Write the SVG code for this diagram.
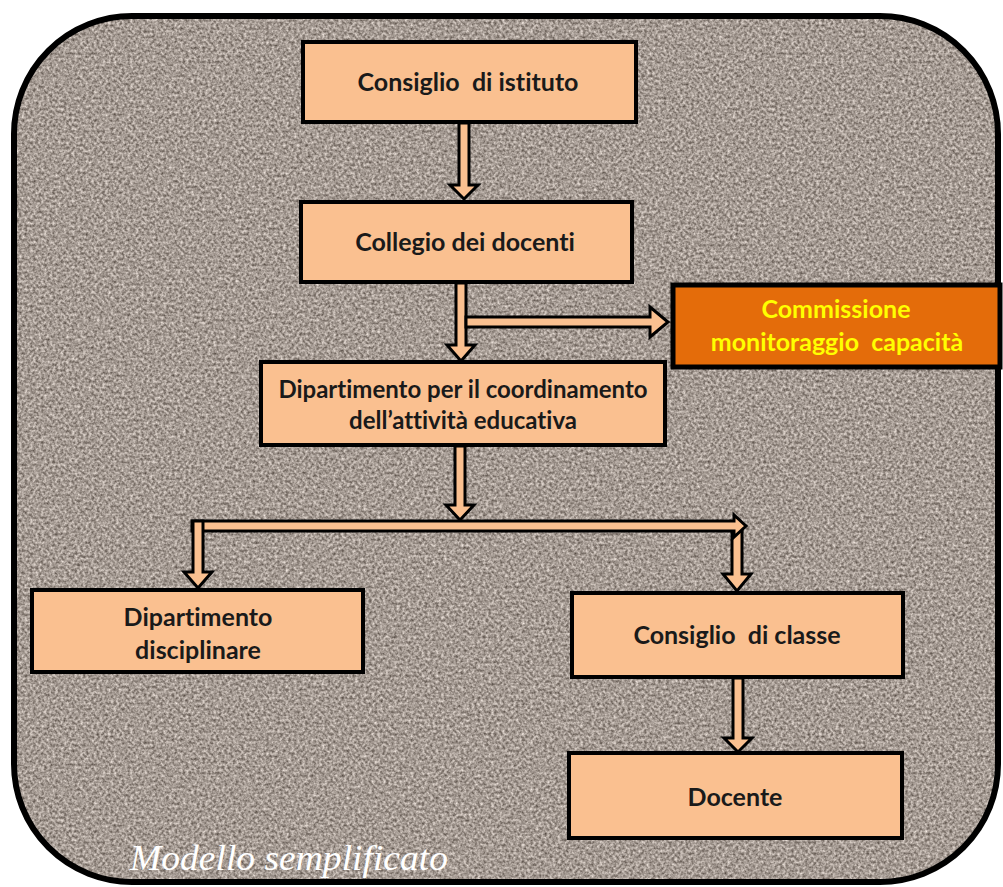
<svg xmlns="http://www.w3.org/2000/svg" width="1003" height="887" viewBox="0 0 1003 887">
<defs>
<filter id="grain" x="0" y="0" width="100%" height="100%" color-interpolation-filters="sRGB">
<feTurbulence type="fractalNoise" baseFrequency="0.36" numOctaves="2" seed="7" result="n"/>
<feColorMatrix in="n" type="matrix" values="0.75 0 0 0 0.27  0.75 0 0 0 0.23  0.75 0 0 0 0.20  0 0 0 0 1" result="c"/>
<feComposite in="c" in2="SourceAlpha" operator="in"/>
</filter>
<style>
.box{fill:#FAC090;stroke:#000;stroke-width:4}
.orange{fill:#E46C0A;stroke:#000;stroke-width:5}
.t{font-family:Lato,"Open Sans","Liberation Sans",sans-serif;font-weight:bold;font-size:25px;fill:#1a1a1a;text-anchor:middle;font-variant-ligatures:none}
.t2{font-size:24px}
.ty{font-family:Lato,"Open Sans","Liberation Sans",sans-serif;font-weight:bold;font-size:25px;fill:#FFFF00;text-anchor:middle;font-variant-ligatures:none}
.arr{fill:#FAC090;stroke:#000;stroke-width:3;stroke-linejoin:miter}
.cap{font-family:"Liberation Serif","DejaVu Serif",serif;font-style:italic;font-size:36px;fill:#fff;font-variant-ligatures:none}
</style>
</defs>
<rect width="1003" height="887" fill="#fff"/>
<g id="background">
<rect x="14" y="16" width="984" height="866" rx="118" ry="118" fill="#a0968e"/>
<rect x="14" y="16" width="984" height="866" rx="118" ry="118" fill="#a0968e" filter="url(#grain)"/>
<rect x="14" y="16" width="984" height="866" rx="118" ry="118" fill="none" stroke="#000" stroke-width="6"/>
</g>
<g id="connectors">
<polygon class="arr" points="459,123 469,123 469,185 478,185 464,199 450,185 459,185"/>
<polygon class="arr" points="456,283 466,283 466,345 475,345 461,361 447,345 456,345"/>
<polygon class="arr" points="466,317 650,317 650,307 668,322 650,337 650,327 466,327"/>
<polygon class="arr" points="455,446 465,446 465,505 474,505 460,520 446,505 455,505"/>
<polygon class="arr" points="732,531 742,531 742,574 751,574 737,591 723,574 732,574"/>
<polygon class="arr" points="192,521 734,521 734,515 746,526 734,537 734,531 202,531 192,531"/>
<polygon class="arr" points="193,521 203,521 203,572 212,572 198,588 184,572 193,572"/>
<polygon class="arr" points="733,678 743,678 743,738 752,738 738,752 724,738 733,738"/>
</g>
<g id="n1"><rect class="box" x="303" y="42" width="333" height="80"/><text class="t" x="468" y="91" xml:space="preserve">Consiglio  di istituto</text></g>
<g id="n2"><rect class="box" x="301" y="202" width="331" height="80"/><text class="t" x="465" y="251">Collegio dei docenti</text></g>
<g id="n3"><rect class="box" x="261" y="362" width="404" height="83"/><text class="t t2" x="463" y="398">Dipartimento per il coordinamento</text><text class="t t2" x="463" y="429">dell’attività educativa</text></g>
<g id="n4"><rect class="orange" x="673" y="285" width="327" height="82"/><text class="ty" x="836" y="318">Commissione</text><text class="ty" x="837" y="351" xml:space="preserve">monitoraggio  capacità</text></g>
<g id="n5"><rect class="box" x="32" y="590" width="331" height="82"/><text class="t" x="198" y="626">Dipartimento</text><text class="t" x="198" y="659">disciplinare</text></g>
<g id="n6"><rect class="box" x="572" y="593" width="331" height="84"/><text class="t" x="737" y="644" xml:space="preserve">Consiglio  di classe</text></g>
<g id="n7"><rect class="box" x="569" y="753" width="333" height="85"/><text class="t" x="735" y="806">Docente</text></g>
<text class="cap" x="130" y="870" textLength="318" lengthAdjust="spacingAndGlyphs">Modello semplificato</text>
</svg>
